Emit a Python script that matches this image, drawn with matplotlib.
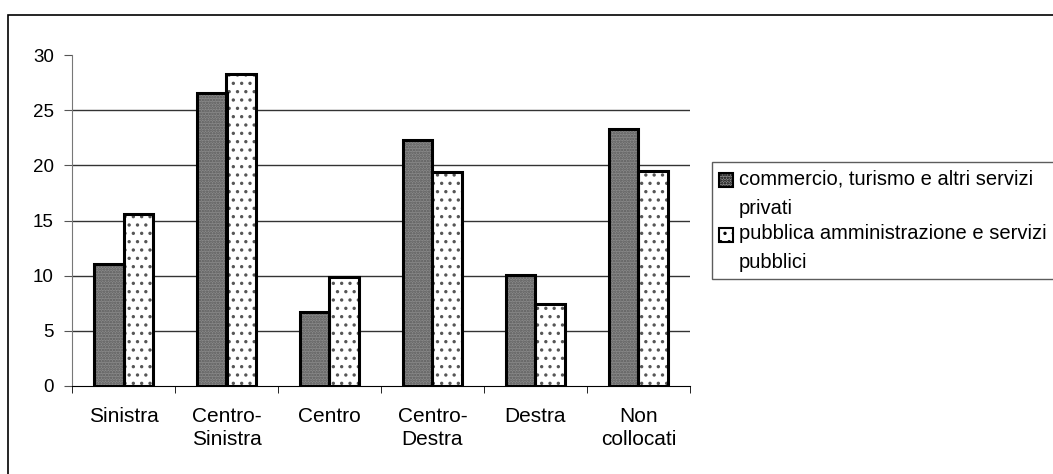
import matplotlib
matplotlib.use("Agg")
import matplotlib.pyplot as plt
import numpy as np
from matplotlib.patches import Patch, Rectangle
from matplotlib.legend_handler import HandlerPatch

categories = ["Sinistra", "Centro-\nSinistra", "Centro", "Centro-\nDestra", "Destra", "Non\ncollocati"]
series_names = ["commercio, turismo e altri servizi\nprivati",
                "pubblica amministrazione e servizi\npubblici"]
commercio = [11.1, 26.6, 6.7, 22.3, 10.1, 23.3]
pubblica = [15.6, 28.3, 9.9, 19.4, 7.4, 19.5]
yticks = [0, 5, 10, 15, 20, 25, 30]

plt.rcParams['font.family'] = ['Liberation Sans', 'DejaVu Sans']
plt.rcParams['font.size'] = 14.5
plt.rcParams['hatch.linewidth'] = 1.2

W, H = 1053, 474
fig = plt.figure(figsize=(W/100, H/100), dpi=100)
ax = fig.add_axes([72/W, 1-386/H, (690-72)/W, (386-55)/H])

x = np.arange(len(categories))
bw = 0.29
styles = [dict(face='#8a8a8a', hatch='......', hc='#5a5a5a'),
          dict(face='white', hatch='..', hc='#555555')]
for i, vals in enumerate([commercio, pubblica]):
    pos = x + (i - 0.5) * bw
    s = styles[i]
    ax.bar(pos, vals, bw, color=s['face'], hatch=s['hatch'], edgecolor=s['hc'], linewidth=0, zorder=3)
    ax.bar(pos, vals, bw, fill=False, edgecolor='black', linewidth=2.2, zorder=4)

ax.set_ylim(0, 30)
ax.set_xlim(-0.5, len(categories) - 0.5)
ax.set_yticks(yticks)
ax.set_yticklabels([str(v) for v in yticks], fontsize=13.5)
ax.set_xticks(x)
ax.set_xticklabels(categories, linespacing=1.3, fontsize=15)
ax.set_xticks(np.arange(len(categories) + 1) - 0.5, minor=True)
ax.tick_params(axis='x', which='major', length=0, pad=15)
ax.tick_params(axis='x', which='minor', length=5, direction='out', color='black')
ax.tick_params(axis='y', length=6, direction='out', color='#555555', pad=7)
for v in yticks[1:-1]:
    ax.axhline(v, color='#333333', linewidth=1, zorder=1)
for sp in ['top', 'right']:
    ax.spines[sp].set_visible(False)
ax.spines['left'].set_color('#777777')
ax.spines['bottom'].set_color('black')


def first_line_patch(legend, orig_handle, xdescent, ydescent, width, height, fontsize):
    shift = fontsize * 0.68
    return Rectangle((-xdescent, -ydescent + shift), width, height)


handles = [Patch(facecolor=styles[0]['face'], edgecolor='black', hatch='......', linewidth=1.5),
           Patch(facecolor='white', edgecolor='black', hatch='..', linewidth=1.5)]
leg = fig.legend(handles, series_names, loc='upper left',
                 bbox_to_anchor=(712/W, 1-162/H, 0.40, 0.0), mode='expand',
                 frameon=True, fancybox=False, edgecolor='#333333', fontsize=14.5,
                 handlelength=0.7, handleheight=0.7, handletextpad=0.3,
                 borderpad=0.35, labelspacing=0.3, borderaxespad=0,
                 handler_map={Patch: HandlerPatch(patch_func=first_line_patch)})
leg.get_frame().set_linewidth(1.0)
for t in leg.get_texts():
    t.set_linespacing(1.7)

fig.patches.append(Rectangle((8/W, -0.1), 1.2, 1 - 15/H + 0.1, transform=fig.transFigure,
                             fill=False, edgecolor='black', linewidth=1.2))

fig.savefig("out.png", dpi=100)
